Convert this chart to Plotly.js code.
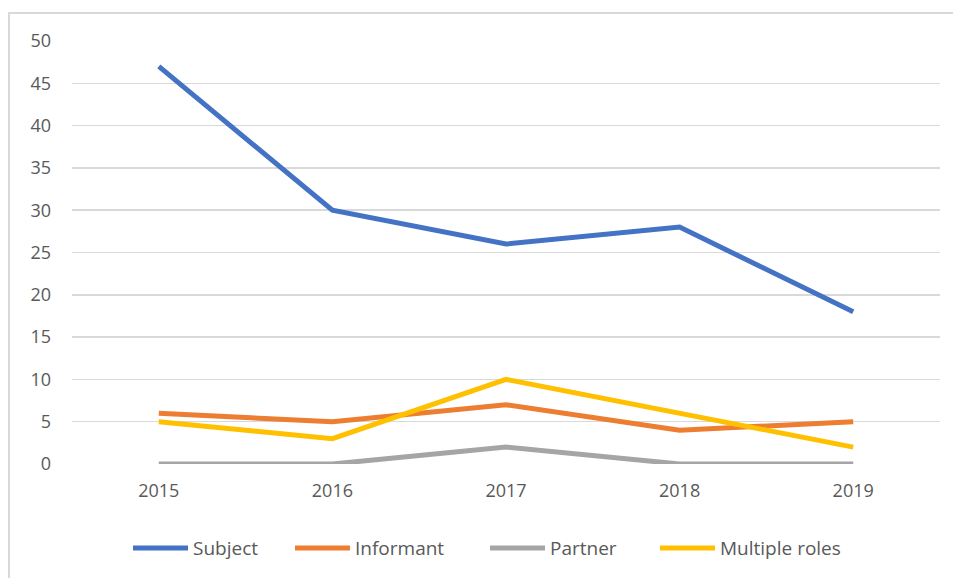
<!DOCTYPE html>
<html>
<head>
<meta charset="utf-8">
<script src="https://cdn.plot.ly/plotly-3.0.1.min.js"></script>
<style>
html,body{margin:0;padding:0;background:#fff;overflow:hidden;}
#chart{position:absolute;left:0;top:0;width:953px;height:578px;}
.bl{position:absolute;left:8px;top:12px;width:2px;height:600px;background:#d9d9d9;}
.bt{position:absolute;left:8px;top:12px;width:960px;height:2px;background:#d9d9d9;}
</style>
</head>
<body>
<div id="chart"></div>
<div class="bl"></div>
<div class="bt"></div>
<script>
const years = ['2015','2016','2017','2018','2019'];
const subject = [47, 30, 26, 28, 18];
const informant = [6, 5, 7, 4, 5];
const partner = [0, 0, 2, 0, 0];
const multipleRoles = [5, 3, 10, 6, 2];
const seriesNames = ['Subject','Informant','Partner','Multiple roles'];
const colors = ['#4472C4','#ED7D31','#A5A5A5','#FFC000'];
const values = [subject, informant, partner, multipleRoles];
const legendIds = ['legend','legend2','legend3','legend4'];
const legendStartPx = [133, 295, 490, 660];

const traces = values.map((v,i)=>({
  x: years, y: v, type:'scatter', mode:'lines', name: seriesNames[i],
  line:{color:colors[i], width:5}, legend: legendIds[i]
}));

const L = 72, R = 13, W = 953;
const plotW = W - L - R;
const layout = {
  width:953, height:578,
  margin:{l:L, r:R, t:41, b:113},
  paper_bgcolor:'rgba(0,0,0,0)', plot_bgcolor:'#fff',
  font:{family:'"Open Sans", "Liberation Sans", sans-serif', color:'#595959', size:18},
  xaxis:{type:'category', range:[-0.5,4.5], showgrid:false, zeroline:false, showline:false,
    ticks:'', ticklabelstandoff:14, tickfont:{size:18, color:'#595959'}},
  yaxis:{range:[0,50], dtick:5, tick0:0, showgrid:true, gridcolor:'#d9d9d9', gridwidth:1.5,
    zeroline:false, showline:false, ticks:'', ticklabelstandoff:20, tickfont:{size:18, color:'#595959'}},
  showlegend:true
};
legendIds.forEach((id,i)=>{
  layout[id] = {orientation:'h', x:(legendStartPx[i]-5-L)/plotW, xanchor:'left', y:-0.196, yanchor:'middle',
    font:{size:19, color:'#595959'}, itemwidth:55, bgcolor:'rgba(0,0,0,0)'};
});
Plotly.newPlot('chart', traces, layout, {staticPlot:true});
</script>
</body>
</html>
